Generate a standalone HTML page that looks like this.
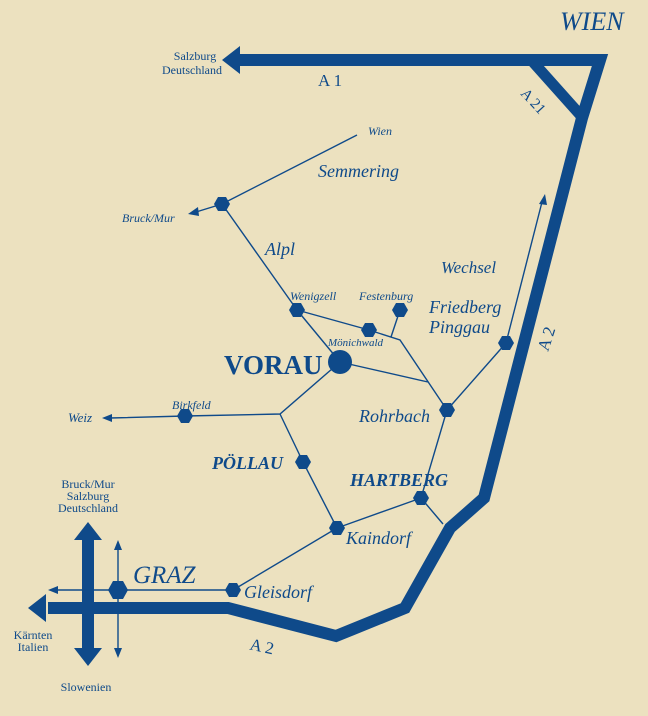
<!DOCTYPE html>
<html><head><meta charset="utf-8"><style>
html,body{margin:0;padding:0;background:#ece1bf}
svg{display:block}
text{font-family:"Liberation Serif",serif;fill:#0f4a8a}
.i{font-style:italic}
</style></head><body>
<svg width="648" height="716" viewBox="0 0 648 716" xmlns="http://www.w3.org/2000/svg">
<defs><polygon id="h" points="-8,0 -4,-7 4,-7 8,0 4,7 -4,7"/></defs>
<rect width="648" height="716" fill="#ece1bf"/>
<g fill="none" stroke="#0f4a8a" stroke-linejoin="miter">
<polyline points="238,60 600,60 582,118 484,498 450,528 405,608 336,636 228,608 48,608" stroke-width="12"/>
<line x1="533" y1="62" x2="583" y2="118" stroke-width="11"/>
<line x1="88" y1="540" x2="88" y2="650" stroke-width="12"/>
<g stroke-width="1.4">
<line x1="357" y1="135" x2="222" y2="204"/>
<line x1="222" y1="204" x2="196" y2="212"/>
<line x1="222" y1="204" x2="297" y2="310"/>
<polyline points="297,310 369,330 400,340 447,410"/>
<line x1="400" y1="310" x2="391" y2="337"/>
<line x1="297" y1="310" x2="340" y2="362"/>
<line x1="340" y1="362" x2="428" y2="382"/>
<polyline points="340,362 280,414 185,416 110,418"/>
<polyline points="280,414 303,462 337,528 233,590 118,590 56,590"/>
<polyline points="337,528 421,498 447,410 506,343 542,202"/>
<line x1="421" y1="498" x2="443" y2="524"/>
<line x1="118" y1="548" x2="118" y2="650"/>
</g>
</g>
<g fill="#0f4a8a">
<polygon points="222,60 240,46 240,74"/>
<polygon points="28,608 46,594 46,622"/>
<polygon points="88,522 102,540 74,540"/>
<polygon points="88,666 102,648 74,648"/>
<polygon points="188,214 198,207 199,216"/>
<polygon points="102,418 112,414 112,422"/>
<polygon points="48,590 58,586 58,594"/>
<polygon points="545,194 547,205 539,204"/>
<polygon points="118,540 114,550 122,550"/>
<polygon points="118,658 114,648 122,648"/>
<circle cx="340" cy="362" r="12"/>
<use href="#h" x="222" y="204"/>
<use href="#h" x="297" y="310"/>
<use href="#h" x="369" y="330"/>
<use href="#h" x="400" y="310"/>
<use href="#h" x="506" y="343"/>
<use href="#h" x="447" y="410"/>
<use href="#h" x="185" y="416"/>
<use href="#h" x="303" y="462"/>
<use href="#h" x="421" y="498"/>
<use href="#h" x="337" y="528"/>
<use href="#h" x="233" y="590"/>
<polygon points="108,590 113,581 123,581 128,590 123,599 113,599"/>
</g>
<text x="560" y="30" class="i" font-size="26">WIEN</text>
<text x="195" y="60" font-size="12" text-anchor="middle">Salzburg</text>
<text x="192" y="74" font-size="12" text-anchor="middle">Deutschland</text>
<text x="318" y="86" font-size="17">A 1</text>
<text x="0" y="0" font-size="15" transform="translate(520,94) rotate(47)">A 21</text>
<text x="0" y="0" font-size="17" transform="translate(548,352) rotate(-72)">A 2</text>
<text x="250" y="652" font-size="17" transform="rotate(12 262 646)">A 2</text>
<text x="368" y="135" class="i" font-size="12">Wien</text>
<text x="318" y="177" class="i" font-size="18">Semmering</text>
<text x="122" y="222" class="i" font-size="12">Bruck/Mur</text>
<text x="265" y="255" class="i" font-size="18">Alpl</text>
<text x="441" y="273" class="i" font-size="17">Wechsel</text>
<text x="290" y="300" class="i" font-size="12">Wenigzell</text>
<text x="359" y="300" class="i" font-size="12">Festenburg</text>
<text x="429" y="313" class="i" font-size="18">Friedberg</text>
<text x="429" y="333" class="i" font-size="18">Pinggau</text>
<text x="328" y="346" class="i" font-size="11">Mönichwald</text>
<text x="224" y="374" font-size="27" font-weight="bold">VORAU</text>
<text x="172" y="409" class="i" font-size="12">Birkfeld</text>
<text x="68" y="422" class="i" font-size="13">Weiz</text>
<text x="359" y="422" class="i" font-size="18">Rohrbach</text>
<text x="212" y="469" class="i" font-size="18" font-weight="bold">PÖLLAU</text>
<text x="350" y="486" class="i" font-size="18" font-weight="bold">HARTBERG</text>
<text x="346" y="544" class="i" font-size="18">Kaindorf</text>
<text x="133" y="583" class="i" font-size="25">GRAZ</text>
<text x="244" y="598" class="i" font-size="18">Gleisdorf</text>
<text x="88" y="488" font-size="12" text-anchor="middle">Bruck/Mur</text>
<text x="88" y="500" font-size="12" text-anchor="middle">Salzburg</text>
<text x="88" y="512" font-size="12" text-anchor="middle">Deutschland</text>
<text x="33" y="639" font-size="12" text-anchor="middle">Kärnten</text>
<text x="33" y="651" font-size="12" text-anchor="middle">Italien</text>
<text x="86" y="691" font-size="12" text-anchor="middle">Slowenien</text>
</svg>
</body></html>
